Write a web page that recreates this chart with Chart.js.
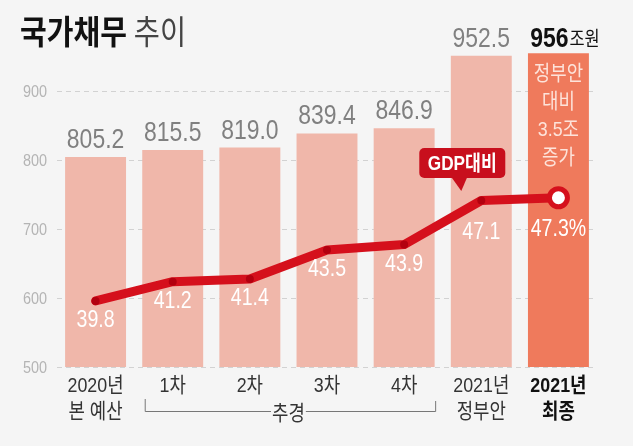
<!DOCTYPE html>
<html>
<head>
<meta charset="utf-8">
<script src="https://cdn.jsdelivr.net/npm/chart.js@4"></script>
<style>
  html, body { margin: 0; padding: 0; background: #f5f5f5; }
  canvas { display: block; }
</style>
</head>
<body>
<canvas id="c" width="633" height="446"></canvas>
<script>
const categories = [['2020년', '본 예산'], ['1차'], ['2차'], ['3차'], ['4차'], ['2021년', '정부안'], ['2021년', '최종']];
const debt = [805.2, 815.5, 819.0, 839.4, 846.9, 952.5, 956];
const debtLabels = ['805.2', '815.5', '819.0', '839.4', '846.9', '952.5', '956'];
const gdpRatio = [39.8, 41.2, 41.4, 43.5, 43.9, 47.1, 47.3];
const gdpLabels = ['39.8', '41.2', '41.4', '43.5', '43.9', '47.1', '47.3%'];
const yTicks = [500, 600, 700, 800, 900];
const noteLines = ['정부안', '대비', '3.5조', '증가'];
const groupLabel = '추경';
const calloutText = 'GDP대비';

const NUM = '"Liberation Sans", "Noto Sans CJK KR", sans-serif';
const KR = '"Noto Sans CJK KR", sans-serif';

const BAR = '#f0b7aa';
const BAR_LAST = '#ef7a5c';
const RED = '#d5101c';
const last = debt.length - 1;

// draws horizontally condensed text; returns drawn width
function nText(ctx, text, x, y, font, color, align, sx) {
  ctx.save();
  ctx.font = font;
  const w = ctx.measureText(text).width * sx;
  let left = x;
  if (align === 'center') left = x - w / 2;
  else if (align === 'right') left = x - w;
  ctx.translate(left, y);
  ctx.scale(sx, 1);
  ctx.textAlign = 'left';
  ctx.fillStyle = color;
  ctx.fillText(text, 0, 0);
  ctx.restore();
  return w;
}
function measure(ctx, text, font, sx) {
  ctx.save(); ctx.font = font;
  const w = ctx.measureText(text).width * sx;
  ctx.restore(); return w;
}

const overlay = {
  id: 'overlay',
  afterDatasetsDraw(chart) {
    const ctx = chart.ctx;
    const x = chart.scales.x;
    const y = chart.scales.y;
    const barMeta = chart.getDatasetMeta(1);
    const lineMeta = chart.getDatasetMeta(0);
    ctx.save();
    ctx.textBaseline = 'middle';
    // y tick labels
    yTicks.forEach(v => nText(ctx, String(v), 47, y.getPixelForValue(v) + 1, '17px ' + NUM, '#b4b4b4', 'right', 0.85));
    // x labels
    categories.forEach((lines, i) => {
      const cx = x.getPixelForValue(i);
      const bold = i === last;
      lines.forEach((t, k) => nText(ctx, t, cx, 386 + k * 26, (bold ? 'bold ' : '') + '21px ' + NUM, bold ? '#111' : '#333', 'center', 0.85));
    });
    // value labels above bars
    ctx.textBaseline = 'alphabetic';
    barMeta.data.forEach((bar, i) => {
      if (i === last) {
        const f1 = 'bold 27px ' + NUM, f2 = '20px ' + KR;
        const w1 = measure(ctx, debtLabels[i], f1, 0.85);
        const w2 = measure(ctx, '조원', f2, 0.82);
        const start = bar.x - (w1 + w2) / 2 + 6;
        nText(ctx, debtLabels[i], start, bar.y - 6, f1, '#111', 'left', 0.85);
        nText(ctx, '조원', start + w1 + 1, bar.y - 7, f2, '#111', 'left', 0.82);
      } else {
        nText(ctx, debtLabels[i], bar.x, bar.y - 9, '27px ' + NUM, '#808080', 'center', 0.85);
      }
    });
    // note in last bar
    const lb = barMeta.data[last];
    ctx.textBaseline = 'middle';
    noteLines.forEach((t, k) => nText(ctx, t, lb.x, 74 + k * 28, '21px ' + NUM, '#fde3da', 'center', 0.85));
    // line value labels
    lineMeta.data.forEach((p, i) => {
      const off = i >= 5 ? 32 : 20;
      nText(ctx, gdpLabels[i], p.x, p.y + off, '23px ' + NUM, '#ffffff', 'center', 0.85);
    });
    // callout
    const cp = lineMeta.data[5];
    const rx = cp.x - 62, ry = 148, rw = 86, rh = 30;
    ctx.fillStyle = '#c80f1d';
    ctx.beginPath();
    ctx.roundRect(rx, ry, rw, rh, 5);
    ctx.fill();
    ctx.beginPath();
    ctx.moveTo(cp.x - 30, ry + rh - 1);
    ctx.lineTo(cp.x - 14, ry + rh - 1);
    ctx.lineTo(cp.x - 20, ry + rh + 13);
    ctx.closePath();
    ctx.fill();
    nText(ctx, calloutText, rx + rw / 2, ry + rh / 2 + 1, 'bold 21px ' + NUM, '#ffffff', 'center', 0.82);
    // bracket
    const bl = x.getPixelForValue(1) - 28;
    const br = x.getPixelForValue(4) + 31;
    const mid = (x.getPixelForValue(1) + x.getPixelForValue(4)) / 2;
    const by = 411.5;
    const gf = '21px ' + KR;
    const gw = measure(ctx, groupLabel, gf, 0.85) / 2 + 1;
    ctx.strokeStyle = '#777';
    ctx.lineWidth = 1;
    ctx.beginPath();
    ctx.moveTo(bl + 0.5, 399);
    ctx.lineTo(bl + 0.5, by);
    ctx.lineTo(mid - gw, by);
    ctx.moveTo(mid + gw, by);
    ctx.lineTo(br + 0.5, by);
    ctx.lineTo(br + 0.5, 401);
    ctx.stroke();
    nText(ctx, groupLabel, mid, 412, gf, '#333', 'center', 0.85);
    // title
    ctx.textBaseline = 'alphabetic';
    const tw = nText(ctx, '국가채무', 20, 44, 'bold 33px ' + KR, '#111', 'left', 0.88);
    nText(ctx, '추이', 20 + tw + 7, 44, '33px ' + KR, '#444', 'left', 0.86);
    ctx.restore();
  }
};

new Chart(document.getElementById('c'), {
  data: {
    labels: categories,
    datasets: [
      {
        type: 'line',
        data: gdpRatio,
        yAxisID: 'y2',
        order: 0,
        borderColor: RED,
        borderWidth: 9,
        borderCapStyle: 'round',
        borderJoinStyle: 'round',
        tension: 0,
        pointRadius: gdpRatio.map((v, i) => i === last ? 9 : 4),
        pointBorderWidth: gdpRatio.map((v, i) => i === last ? 5 : 0),
        pointBackgroundColor: gdpRatio.map((v, i) => i === last ? '#ffffff' : '#b3000f'),
        pointBorderColor: RED
      },
      {
        type: 'bar',
        data: debt,
        yAxisID: 'y',
        order: 1,
        backgroundColor: debt.map((v, i) => i === last ? BAR_LAST : BAR),
        barPercentage: 0.79,
        categoryPercentage: 1
      }
    ]
  },
  options: {
    responsive: false,
    animation: false,
    devicePixelRatio: 1,
    layout: { padding: { top: 23, right: 36, left: 0, bottom: 0 } },
    plugins: { legend: { display: false }, tooltip: { enabled: false } },
    scales: {
      x: {
        grid: { display: false },
        border: { display: false },
        afterFit: s => { s.height = 79; },
        ticks: { display: false }
      },
      y: {
        min: 500,
        max: 1000,
        afterBuildTicks: s => { s.ticks = yTicks.map(v => ({ value: v })); },
        afterFit: s => { s.width = 57; },
        grid: { color: '#d2d2d2', lineWidth: 1, drawTicks: false },
        border: { display: false, dash: [5, 4] },
        ticks: { display: false }
      },
      y2: {
        display: false,
        min: 35,
        max: 60
      }
    }
  },
  plugins: [overlay]
});
</script>
</body>
</html>
